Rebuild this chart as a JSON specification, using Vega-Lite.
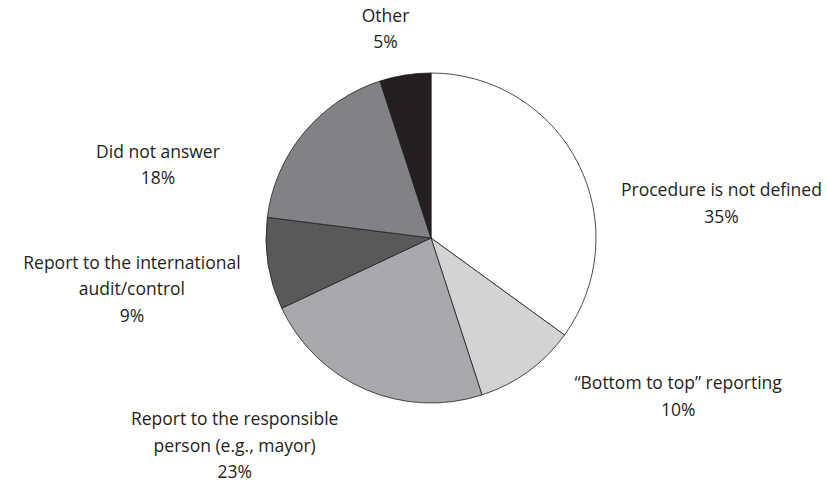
{
  "$schema": "https://vega.github.io/schema/vega-lite/v6.json",
  "width": 792,
  "height": 476,
  "autosize": {"type": "none"},
  "padding": {"left": 35, "top": 0, "right": 0, "bottom": 6},
  "background": "white",
  "view": {"stroke": null},
  "data": {
    "values": [
      {"idx": 1, "category": "Procedure is not defined", "value": 35, "label": "Procedure is not defined\n35%"},
      {"idx": 2, "category": "\u201cBottom to top\u201d reporting", "value": 10, "label": "\u201cBottom to top\u201d reporting\n10%"},
      {"idx": 3, "category": "Report to the responsible person (e.g., mayor)", "value": 23, "label": "Report to the responsible\nperson (e.g., mayor)\n23%"},
      {"idx": 4, "category": "Report to the international audit/control", "value": 9, "label": "Report to the international\naudit/control\n9%"},
      {"idx": 5, "category": "Did not answer", "value": 18, "label": "Did not answer\n18%"},
      {"idx": 6, "category": "Other", "value": 5, "label": "Other\n5%"}
    ]
  },
  "encoding": {
    "theta": {"field": "value", "type": "quantitative", "stack": true},
    "order": {"field": "idx", "type": "quantitative", "sort": "ascending"}
  },
  "layer": [
    {
      "mark": {"type": "arc", "outerRadius": 165, "stroke": "#231f20", "strokeWidth": 0.8},
      "encoding": {
        "color": {
          "field": "category",
          "type": "nominal",
          "scale": {
            "domain": ["Procedure is not defined", "\u201cBottom to top\u201d reporting", "Report to the responsible person (e.g., mayor)", "Report to the international audit/control", "Did not answer", "Other"],
            "range": ["#ffffff", "#d1d3d4", "#a7a9ac", "#58595b", "#808285", "#231f20"]
          },
          "legend": null
        }
      }
    },
    {
      "mark": {
        "type": "text",
        "font": "Open Sans",
        "fontSize": 17.5,
        "lineHeight": 26.5,
        "lineBreak": "\n",
        "align": "center",
        "baseline": "middle",
        "fill": "#231f20",
        "dx": {"expr": "600*sin(PI*(datum.value_start+datum.value_end)/100)/sqrt(4*pow(sin(PI*(datum.value_start+datum.value_end)/100),2)+pow(cos(PI*(datum.value_start+datum.value_end)/100),2))*(1-0.55*pow(max(cos(PI*(datum.value_start+datum.value_end)/100),0),8))"},
        "dy": {"expr": "-(cos(PI*(datum.value_start+datum.value_end)/100)>0?218:275)*cos(PI*(datum.value_start+datum.value_end)/100)/sqrt(4*pow(sin(PI*(datum.value_start+datum.value_end)/100),2)+pow(cos(PI*(datum.value_start+datum.value_end)/100),2))+32*pow(sin(PI*(datum.value_start+datum.value_end)/100),4)-(length(split(datum.label,'\\n'))-1)*13.25"}
      },
      "encoding": {
        "text": {"field": "label", "type": "nominal"},
        "detail": {"field": "category", "type": "nominal"}
      }
    }
  ]
}
